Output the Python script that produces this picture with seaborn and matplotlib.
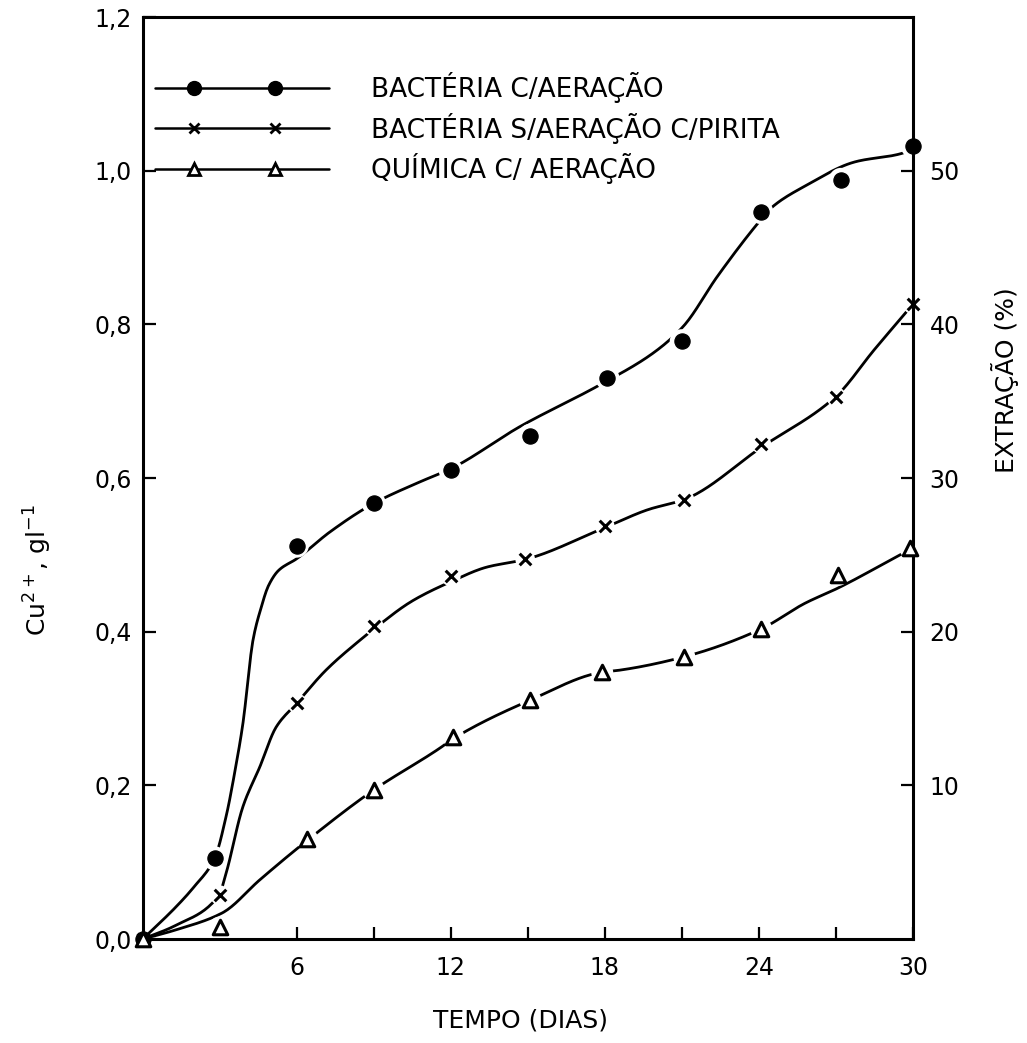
import numpy as np
import pandas as pd
import matplotlib
matplotlib.use("Agg")
import matplotlib.pyplot as plt
import seaborn as sns
from matplotlib.lines import Line2D
from matplotlib.legend_handler import HandlerLine2D

# ---- measured points (days, Cu2+ g/l) ----
aer_days = [0, 2.8, 6.0, 9.0, 12.0, 15.1, 18.1, 21.0, 24.1, 27.2, 30.0]
aer_vals = [0, 0.105, 0.512, 0.567, 0.61, 0.655, 0.73, 0.778, 0.946, 0.988, 1.032]
pir_days = [0, 3.0, 6.0, 9.0, 12.0, 14.9, 18.0, 21.1, 24.1, 27.0, 30.0]
pir_vals = [0, 0.057, 0.307, 0.407, 0.472, 0.494, 0.537, 0.572, 0.644, 0.706, 0.826]
qui_days = [0, 3.0, 6.4, 9.0, 12.1, 15.1, 17.9, 21.1, 24.1, 27.1, 29.9]
qui_vals = [0, 0.015, 0.13, 0.194, 0.263, 0.311, 0.347, 0.367, 0.403, 0.474, 0.509]

# ---- hand-fitted curves (control points) ----
aer_cx = [0, 1.3, 2.0, 2.8, 3.25, 3.6, 3.9, 4.3, 4.6, 4.9, 5.3, 6.0, 7.3, 9.0, 10.8,
          12.0, 14.7, 17.85, 19.9, 21.05, 22.4, 24.0, 24.5, 25.8, 27.7, 29.8, 30.0]
aer_cy = [0, 0.042, 0.068, 0.105, 0.16, 0.22, 0.28, 0.39, 0.43, 0.46, 0.48, 0.495, 0.53, 0.567, 0.595,
          0.612, 0.667, 0.722, 0.763, 0.797, 0.863, 0.933, 0.952, 0.98, 1.011, 1.025, 1.03]
pir_cx = [0, 1.3, 2.97, 3.25, 3.9, 4.56, 5.2, 6.0, 7.14, 8.5, 9.06, 10.5, 12.0, 13.4,
          14.9, 17.97, 19.7, 21.1, 24.1, 27.0, 28.5, 30.0]
pir_cy = [0, 0.018, 0.057, 0.086, 0.172, 0.224, 0.276, 0.307, 0.35, 0.39, 0.405, 0.44, 0.465, 0.484,
          0.494, 0.535, 0.559, 0.572, 0.64, 0.706, 0.767, 0.826]
qui_cx = [0, 1.3, 3.1, 4.56, 6.1, 9.0, 11.6, 12.06, 15.1, 17.85, 18.6, 21.06, 24.06,
          25.8, 27.1, 29.5, 30.0]
qui_cy = [0, 0.012, 0.034, 0.077, 0.12, 0.194, 0.249, 0.26, 0.311, 0.347, 0.35, 0.367, 0.403,
          0.437, 0.457, 0.5, 0.509]

labels = ["BACTÉRIA C/AERAÇÃO", "BACTÉRIA S/AERAÇÃO C/PIRITA", "QUÍMICA C/ AERAÇÃO"]
xtick_vals = [6, 12, 18, 24, 30]
xtick_minor = [3, 9, 15, 21, 27]
ytick_vals = [0.0, 0.2, 0.4, 0.6, 0.8, 1.0, 1.2]
ytick_labels = ["0,0", "0,2", "0,4", "0,6", "0,8", "1,0", "1,2"]
y2tick_vals = [10, 20, 30, 40, 50]


def smooth(x, y, n=400):
    """Monotone cubic (PCHIP) rendering of a hand-drawn curve through control points."""
    x = np.asarray(x, float)
    y = np.asarray(y, float)
    h = np.diff(x)
    d = np.diff(y) / h
    m = np.zeros_like(y)
    for k in range(1, len(x) - 1):
        if d[k - 1] * d[k] <= 0:
            m[k] = 0.0
        else:
            w1 = 2 * h[k] + h[k - 1]
            w2 = h[k] + 2 * h[k - 1]
            m[k] = (w1 + w2) / (w1 / d[k - 1] + w2 / d[k])
    m[0] = d[0]
    m[-1] = d[-1]
    xn = np.linspace(x[0], x[-1], n)
    idx = np.clip(np.searchsorted(x, xn) - 1, 0, len(h) - 1)
    t = (xn - x[idx]) / h[idx]
    h00 = 2 * t**3 - 3 * t**2 + 1
    h10 = t**3 - 2 * t**2 + t
    h01 = -2 * t**3 + 3 * t**2
    h11 = t**3 - t**2
    yn = h00 * y[idx] + h10 * h[idx] * m[idx] + h01 * y[idx + 1] + h11 * h[idx] * m[idx + 1]
    return xn, yn


sns.set_theme(style="white")
plt.rcParams['font.family'] = ['DejaVu Sans']
plt.rcParams['text.color'] = 'black'
plt.rcParams['axes.labelcolor'] = 'black'
plt.rcParams['xtick.color'] = 'black'
plt.rcParams['ytick.color'] = 'black'

fig = plt.figure(figsize=(10.27, 10.43), dpi=100)
ax = fig.add_axes([0.139, 0.0997, 0.7498, 0.884])

LW = 2.0
for cx, cy in [(aer_cx, aer_cy), (pir_cx, pir_cy), (qui_cx, qui_cy)]:
    sx, sy = smooth(cx, cy)
    sns.lineplot(x=sx, y=sy, ax=ax, color="black", lw=LW, estimator=None, zorder=2)

# white halos that break the line around the markers
for dx, dy, s in [(aer_days, aer_vals, 300), (pir_days, pir_vals, 200), (qui_days, qui_vals, 250)]:
    sns.scatterplot(x=dx[1:], y=dy[1:], ax=ax, marker="o", s=s, color="white",
                    edgecolor="none", zorder=2.2, legend=False)

sns.scatterplot(x=aer_days, y=aer_vals, ax=ax, marker="o", s=120, color="black",
                edgecolor="black", zorder=4, clip_on=False, legend=False)
sns.scatterplot(x=pir_days, y=pir_vals, ax=ax, marker="x", s=70, color="black",
                linewidth=2.2, zorder=4, clip_on=False, legend=False)
sns.scatterplot(x=qui_days, y=qui_vals, ax=ax, marker="^", s=110, color="white",
                edgecolor="black", linewidth=2.2, zorder=4, clip_on=False, legend=False)

ax.set_xlim(0, 30)
ax.set_ylim(0, 1.2)
ax.set_xticks(xtick_vals)
ax.set_xticklabels([str(v) for v in xtick_vals])
ax.set_xticks(xtick_minor, minor=True)
ax.set_yticks(ytick_vals)
ax.set_yticklabels(ytick_labels)
ax.tick_params(axis="x", which="both", direction="in", length=9, width=1.6,
               bottom=True, top=False, labelsize=17, pad=12, colors="black")
ax.tick_params(axis="y", which="both", direction="in", length=9, width=1.6,
               left=True, right=False, labelsize=17, pad=8, colors="black")
for sp in ax.spines.values():
    sp.set_visible(True)
    sp.set_linewidth(2.2)
    sp.set_color("black")

ax2 = ax.twinx()
ax2.set_ylim(0, 60)
ax2.set_yticks(y2tick_vals)
ax2.set_yticklabels([str(v) for v in y2tick_vals])
ax2.tick_params(axis="y", direction="in", length=9, width=1.6, right=True, left=False,
                labelsize=17, pad=12, colors="black")
for sp in ax2.spines.values():
    sp.set_visible(False)
ax2.grid(False)
ax.grid(False)

ax.set_xlabel("TEMPO (DIAS)", fontsize=18, color="black")
ax.xaxis.set_label_coords(0.49, -0.075)
ax.set_ylabel("Cu$^{2+}$, gl$^{-1}$", fontsize=18, color="black")
ax.yaxis.set_label_coords(-0.115, 0.40)
ax2.set_ylabel("")
fig.text(0.979, 0.636, "EXTRAÇÃO (%)", rotation=90, ha="center", va="center",
         fontsize=18, color="black")


class SplitHandler(HandlerLine2D):
    """Legend handle: full-length line with two markers set inside it."""
    def create_artists(self, legend, orig_handle, xdescent, ydescent, width, height,
                       fontsize, trans):
        x0 = -xdescent
        x1 = -xdescent + width
        xdata = np.array([x0, x0 + 1.5 * fontsize, x1 - 2.05 * fontsize, x1])
        ydata = np.full_like(xdata, (height - ydescent) / 2)
        legline = Line2D(xdata, ydata)
        self.update_prop(legline, orig_handle, legend)
        legline.set_markevery([1, 2])
        legline.set_transform(trans)
        return [legline]


handles = [
    Line2D([], [], color="black", lw=1.8, marker="o", markersize=10,
           markerfacecolor="black", markeredgecolor="black"),
    Line2D([], [], color="black", lw=1.8, marker="x", markersize=7,
           markeredgewidth=2, markeredgecolor="black"),
    Line2D([], [], color="black", lw=1.8, marker="^", markersize=9,
           markerfacecolor="white", markeredgecolor="black", markeredgewidth=2),
]
hm = {h: SplitHandler(numpoints=2) for h in handles}
leg = ax.legend(handles, labels, loc="upper left", bbox_to_anchor=(0.0156, 0.94),
                frameon=False, fontsize=19, handlelength=6.6, handletextpad=1.6,
                labelspacing=0.35, borderpad=0, borderaxespad=0, handler_map=hm)
for t in leg.get_texts():
    t.set_color("black")

fig.savefig("out.png", dpi=100, facecolor="white")
